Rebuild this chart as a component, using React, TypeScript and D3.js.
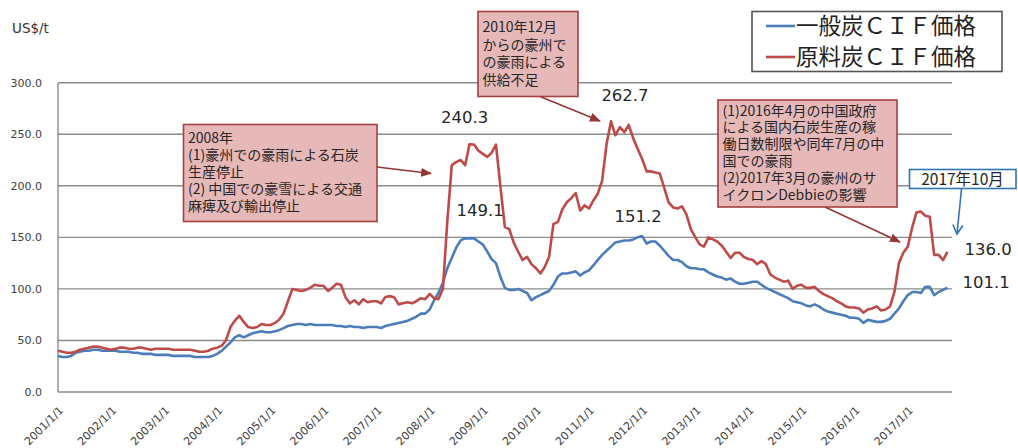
import React from "react";
import * as d3 from "d3";

const width = 1018;
const height = 448;
const plot = { left: 58, right: 952, top: 82.7, bottom: 392 };

// monthly data, 2001/1 .. 2017/10 (US$/t)
const months = d3.timeMonth.range(new Date(2001, 0, 1), new Date(2017, 10, 1));

const steamCoal = [
  35, 34, 34, 35, 38, 39, 40, 40, 41, 41, 40, 40, // 2001
  40, 40, 39, 39, 39, 38, 38, 37, 37, 37, 36, 36, // 2002
  36, 36, 35, 35, 35, 35, 35, 34, 34, 34, 34, 35, // 2003
  37, 40, 44, 48, 53, 55, 53, 55, 57, 58, 59, 58, // 2004
  58, 59, 60, 62, 64, 65, 66, 66, 65, 66, 65, 65, // 2005
  65, 65, 65, 64, 64, 63, 64, 63, 63, 62, 63, 63, // 2006
  63, 62, 64, 65, 66, 67, 68, 69, 71, 73, 76, 76, // 2007
  80, 89, 96, 106, 120, 130, 140, 147, 149.1, 149, 149, 146, // 2008
  143, 136, 129, 125, 112, 101, 99, 99, 100, 98, 96, 89, // 2009
  92, 94, 96, 98, 104, 112, 115, 115, 116, 117, 113, 116, // 2010
  118, 123, 128, 133, 137, 141, 145, 146, 147, 147, 148, 150, // 2011
  151.2, 144, 146, 146, 142, 137, 132, 128, 128, 126, 122, 120, // 2012
  120, 119, 119, 116, 114, 112, 111, 109, 110, 107, 105, 105, // 2013
  106, 107, 107, 104, 101, 99, 97, 95, 93, 91, 88, 87, // 2014
  86, 84, 83, 85, 83, 80, 78, 77, 76, 75, 74, 72, // 2015
  72, 71, 67, 70, 69, 68, 68, 69, 71, 76, 81, 88, // 2016
  94, 97, 97, 96, 102, 102, 94, 97, 99, 101.1, // 2017
];

const cokingCoal = [
  40, 39, 38, 38, 39, 41, 42, 43, 44, 44, 43, 42, // 2001
  41, 42, 43, 43, 42, 42, 43, 43, 42, 41, 42, 42, // 2002
  42, 42, 41, 41, 41, 41, 41, 40, 39, 39, 40, 42, // 2003
  43, 45, 50, 63, 69, 74, 68, 63, 62, 63, 66, 65, // 2004
  65, 67, 70, 76, 88, 100, 99, 98, 99, 101, 104, 103, // 2005
  103, 98, 101, 105, 104, 92, 86, 89, 85, 90, 87, 88, // 2006
  88, 86, 92, 93, 92, 85, 86, 87, 86, 88, 91, 90, // 2007
  95, 91, 90, 100, 165, 220, 223, 225, 220, 240.3, 240, 234, // 2008
  231, 228, 232, 240, 200, 160, 158, 145, 136, 128, 131, 124, // 2009
  120, 115, 121, 131, 163, 165, 177, 184, 188, 193, 176, 181, // 2010
  178, 186, 192, 205, 240, 262.7, 249, 257, 252, 259, 246, 236, // 2011
  226, 214, 214, 213, 212, 198, 184, 179, 178, 180, 172, 158, // 2012
  150, 143, 141, 150, 148, 146, 142, 136, 130, 135, 135, 131, // 2013
  129, 128, 124, 127, 124, 114, 111, 109, 107, 108, 100, 103, // 2014
  104, 101, 101, 102, 98, 95, 93, 91, 88, 86, 83, 82, // 2015
  82, 81, 77, 80, 81, 83, 79, 80, 83, 97, 125, 135, // 2016
  141, 160, 174, 175, 171, 170, 133, 133, 128, 136.0, // 2017
];

const yTicks = [0, 50, 100, 150, 200, 250, 300];
const xTickDates = d3.timeYear.range(new Date(2001, 0, 1), new Date(2018, 0, 1));

const series = [
  { name: "一般炭ＣＩＦ価格", values: steamCoal, color: "#4A7EBB" },
  { name: "原料炭ＣＩＦ価格", values: cokingCoal, color: "#BE4B48" },
];

// value callouts: series index, month index, text
const valueLabels = [
  { s: 1, m: 93, text: "240.3", dx: -5, dy: -21, anchor: "middle" },
  { s: 0, m: 92, text: "149.1", dx: 15, dy: -22, anchor: "middle" },
  { s: 1, m: 125, text: "262.7", dx: 14, dy: -20.5, anchor: "middle" },
  { s: 0, m: 132, text: "151.2", dx: -4, dy: -14, anchor: "middle" },
  { s: 1, m: 201, text: "136.0", dx: 17, dy: 3, anchor: "start" },
  { s: 0, m: 201, text: "101.1", dx: 15, dy: 0, anchor: "start" },
];

const note2008 = ["2008年", "(1)豪州での豪雨による石炭", "生産停止", "(2) 中国での豪雪による交通", "麻痺及び輸出停止"];
const note2010 = ["2010年12月", "からの豪州で", "の豪雨による", "供給不足"];
const note2016 = [
  "(1)2016年4月の中国政府",
  "による国内石炭生産の稼",
  "働日数制限や同年7月の中",
  "国での豪雨",
  "(2)2017年3月の豪州のサ",
  "イクロンDebbieの影響",
];

const notes = [
  { lines: note2008, x: 183.5, y: 124.5, w: 193.5, h: 97, first: 138, lh: 17, arrow: [377, 167, 431, 173.5] },
  { lines: note2010, x: 478, y: 11.5, w: 100, h: 85, first: 27, lh: 17.5, arrow: [540, 96.5, 600, 121] },
  { lines: note2016, x: 718, y: 100, w: 179, h: 107, first: 110.5, lh: 16.8, arrow: [825, 207, 900, 242] },
];

const fmt = d3.timeFormat("%Y/%-m/%-d");
const latin = "'DejaVu Sans', Verdana, sans-serif";
const cjk = "'Noto Sans CJK JP', sans-serif";

export default function App() {
  const x = d3.scaleTime().domain([new Date(2001, 0, 1), new Date(2017, 10, 1)]).range([plot.left, plot.right]);
  const y = d3.scaleLinear().domain([0, 300]).range([plot.bottom, plot.top]);
  const line = d3
    .line<number>()
    .x((_, i) => x(months[i]))
    .y((d) => y(d));

  return (
    <svg width={width} height={height} style={{ position: "absolute", left: 0, top: 0, background: "#fff" }}>
      <defs>
        <marker id="arrRed" markerUnits="userSpaceOnUse" markerWidth={11} markerHeight={9} refX={10} refY={4.5} orient="auto">
          <path d="M0,0 L11,4.5 L0,9 Z" fill="#953735" />
        </marker>
        <marker id="arrBlue" markerUnits="userSpaceOnUse" markerWidth={12} markerHeight={12} refX={10} refY={6} orient="auto">
          <path d="M1,1 L10,6 L1,11" fill="none" stroke="#2E75B6" strokeWidth={1.6} />
        </marker>
      </defs>

      {/* grid */}
      {yTicks.map((t) => (
        <g key={t}>
          <line x1={plot.left} x2={plot.right} y1={y(t)} y2={y(t)} stroke="#8c8c8c" strokeWidth={1.4} />
          <text x={42} y={y(t)} dy="0.35em" textAnchor="end" fontFamily={latin} fontSize={11} fill="#404040">
            {t.toFixed(1)}
          </text>
        </g>
      ))}
      <line x1={plot.left} x2={plot.left} y1={plot.top} y2={plot.bottom} stroke="#8c8c8c" strokeWidth={1.4} />

      {xTickDates.map((d) => (
        <text
          key={+d}
          transform={`translate(${x(d) + 6},${plot.bottom + 19}) rotate(-45)`}
          textAnchor="end"
          fontFamily={latin}
          fontSize={11}
          fill="#404040"
        >
          {fmt(d)}
        </text>
      ))}

      <text x={12} y={33} fontFamily={latin} fontSize={13.5} fill="#333">US$/t</text>

      {/* series */}
      {series.map((s) => (
        <path key={s.name} d={line(s.values) || ""} fill="none" stroke={s.color} strokeWidth={2.6} strokeLinejoin="round" />
      ))}

      {valueLabels.map((l) => (
        <text
          key={l.text}
          x={x(months[l.m]) + l.dx}
          y={y(series[l.s].values[l.m]) + l.dy}
          textAnchor={l.anchor}
          fontFamily={latin}
          fontSize={16.5}
          fill="#262626"
        >
          {l.text}
        </text>
      ))}

      {/* notes */}
      {notes.map((n, i) => (
        <g key={i}>
          <line x1={n.arrow[0]} y1={n.arrow[1]} x2={n.arrow[2]} y2={n.arrow[3]} stroke="#953735" strokeWidth={1.6} markerEnd="url(#arrRed)" />
          <rect x={n.x} y={n.y} width={n.w} height={n.h} fill="#E6B9B8" stroke="#A5403E" strokeWidth={1.6} />
          {n.lines.map((t, j) => (
            <text key={j} x={n.x + 4.5} y={n.first + j * n.lh} dy="0.36em" fontFamily={cjk} fontSize={14} fill="#262626">
              {t}
            </text>
          ))}
        </g>
      ))}

      <line x1={961.5} y1={189} x2={957} y2={234} stroke="#2E75B6" strokeWidth={1.6} markerEnd="url(#arrBlue)" />
      <rect x={909.5} y={169.5} width={106.5} height={19} fill="#fff" stroke="#2E75B6" strokeWidth={1.6} />
      <text x={962.5} y={179} dy="0.36em" textAnchor="middle" fontFamily={cjk} fontSize={15.5} fill="#262626">
        2017年10月
      </text>

      {/* legend */}
      <rect x={752} y={11.5} width={250} height={60} fill="#fff" stroke="#555" strokeWidth={1.6} />
      {series.map((s, i) => (
        <g key={s.name} transform={`translate(0,${26 + i * 31})`}>
          <line x1={766} x2={795} y1={0} y2={0} stroke={s.color} strokeWidth={2.6} />
          <text x={796} y={0} dy="0.36em" fontFamily={cjk} fontSize={22.5} fill="#222">
            {s.name}
          </text>
        </g>
      ))}
    </svg>
  );
}
